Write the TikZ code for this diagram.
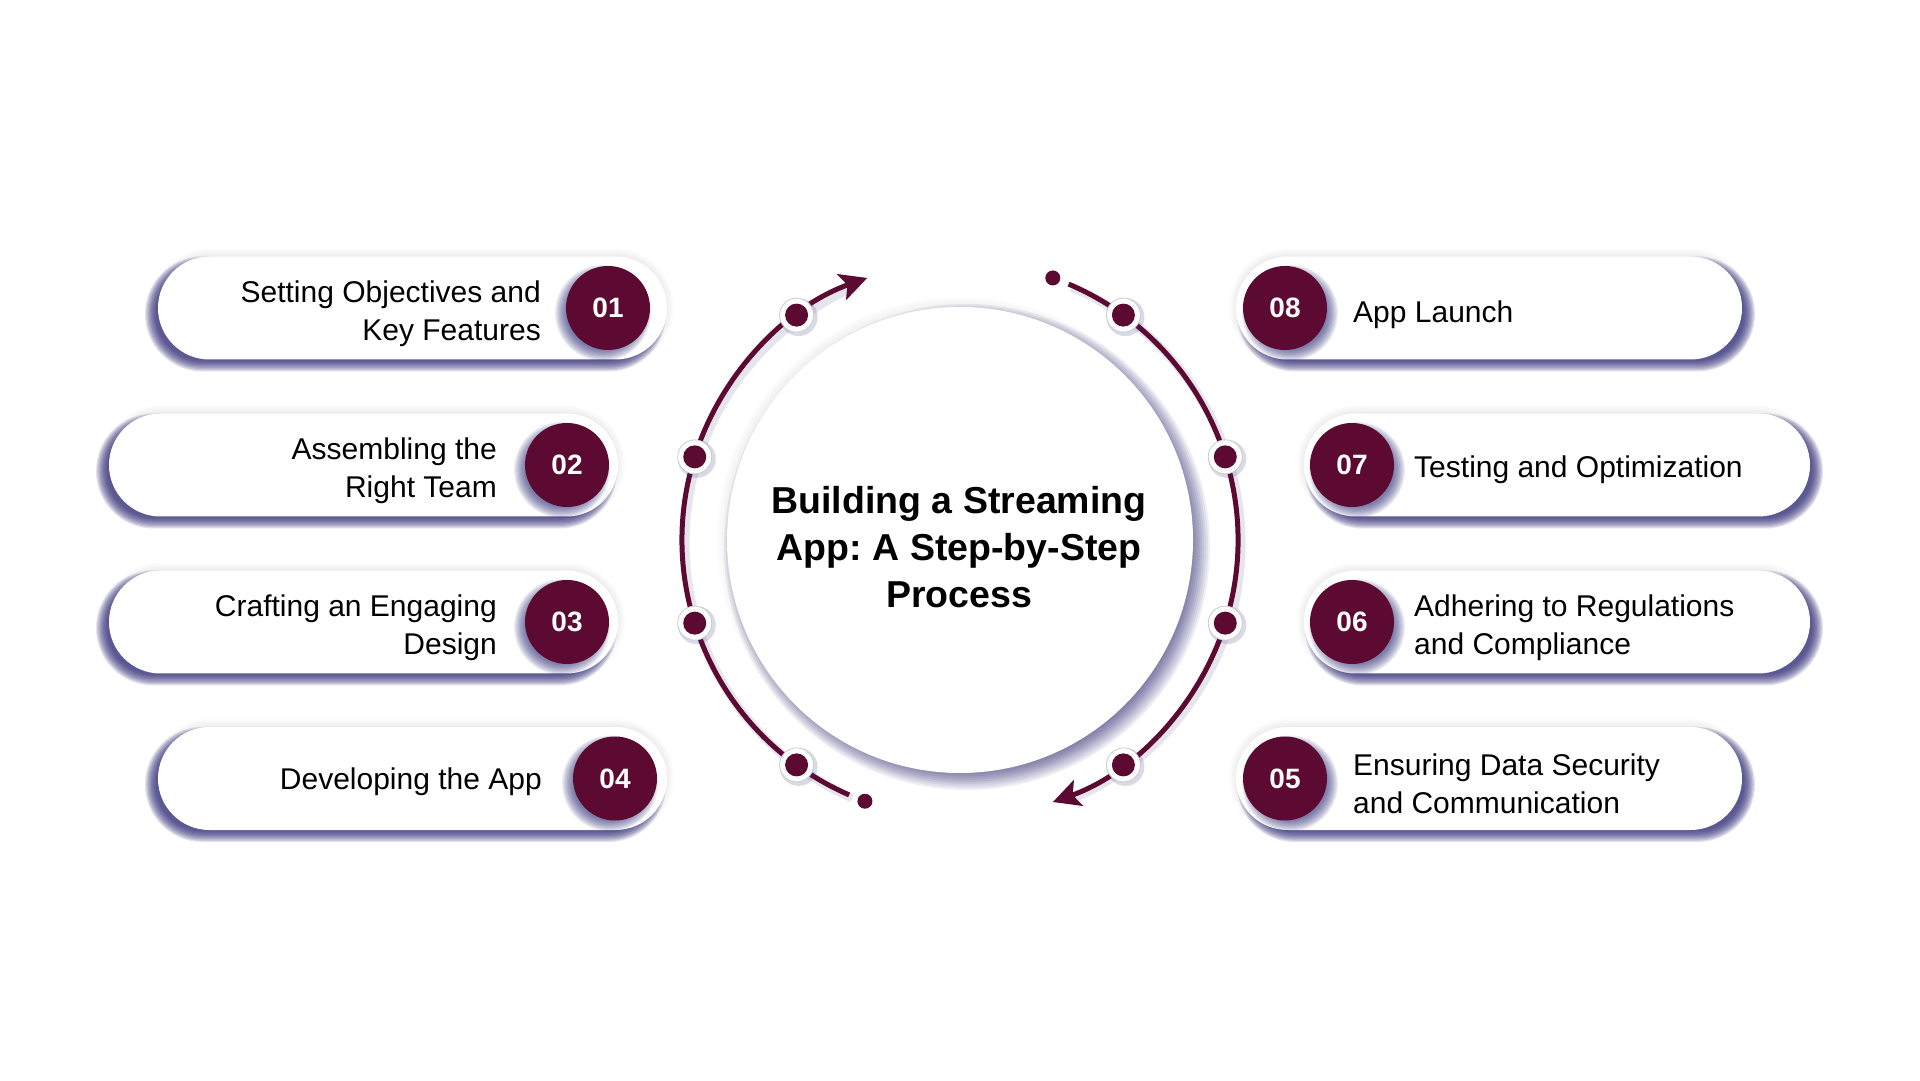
\documentclass[tikz,border=0pt]{standalone}
\usepackage{fontspec}
\setmainfont{Liberation Sans}
\usetikzlibrary{shapes.misc,arrows.meta}
\definecolor{maroon}{HTML}{5C0A32}
\definecolor{shadowc}{HTML}{34307A}
\newcommand\softpill[8]{% cx cy w h dx dy opts blur
  \foreach \k in {0,...,9}{%
    \pgfmathsetmacro\ee{#8*(1-\k/5)}%
    \pgfmathsetmacro\rr{#4/2+\ee-0.2}%
    \fill[#7, rounded corners=\rr pt] ({#1-#3/2+#5-\ee},{#2-#4/2+#6-\ee}) rectangle ({#1+#3/2+#5+\ee},{#2+#4/2+#6+\ee});
  }}
\newcommand\softcirc[7]{% cx cy r dx dy opts blur
  \foreach \k in {0,...,9}{%
    \pgfmathsetmacro\ee{#7*(1-\k/5)}%
    \fill[#6] ({#1+#4},{#2+#5}) circle[radius={#3+\ee}];
  }}
\tikzset{
  pill/.style={rounded rectangle, fill=white, minimum height=103pt, inner sep=0pt, draw=none},
  num/.style={circle, fill=maroon, minimum size=84pt, inner sep=0pt, text=white, font=\bfseries\fontsize{28}{28}\selectfont},
  lbl/.style={font=\fontsize{30}{38}\selectfont, inner sep=0pt, text=black},
  lbll/.style={lbl, anchor=east, align=right},
  lblr/.style={lbl, anchor=west, align=left},
  marker/.style={circle, fill=maroon, minimum size=23pt, inner sep=0pt},
  halo/.style={circle, fill=white, draw=gray!40, line width=0.8pt, minimum size=34pt, inner sep=0pt},
  enddot/.style={circle, fill=maroon, minimum size=15pt, inner sep=0pt},
  ring/.style={draw=maroon, line width=5pt},
  tip/.style={-{Stealth[length=27pt,width=27pt,inset=6pt]}},
  sh/.style={shadowc, opacity=0.14},
  glow/.style={black, opacity=0.012},
}
\begin{document}
\frenchspacing
\begin{tikzpicture}[x=1pt,y=1pt]
\useasboundingbox[fill=white] (0,0) rectangle (1920,1080);

% ---------- central circle ----------
\coordinate (c) at (960,540);
\softcirc{960}{540}{233}{0}{0}{glow}{10}
\softcirc{960}{540}{233}{7}{-7}{shadowc, opacity=0.08}{10}
\node[circle, fill=white, minimum size=466pt, inner sep=0pt] (hub) at (c) {};
\node[font=\bfseries\fontsize{37.5}{47}\selectfont, align=center] (title) at (959,533)
  {Building a Streaming\\App: A Step-by-Step\\Process};

% ---------- ring ----------
\path (c) ++(246.5:278) coordinate (la);
\path (c) ++(67:278) coordinate (ra);
\draw[shadowc, opacity=0.12, line width=9pt] ([shift={(3,-3)}]la) arc[start angle=246.5, end angle=112, radius=278];
\draw[shadowc, opacity=0.12, line width=9pt] ([shift={(3,-3)}]ra) arc[start angle=67, end angle=-67, radius=278];
\draw[ring, tip] (la) arc[start angle=246.5, end angle=109.5, radius=278];
\draw[ring, tip] (ra) arc[start angle=67, end angle=-70.5, radius=278];
\path (c) ++(250:278) node[enddot] (ld) {};
\path (c) ++(70.5:278) node[enddot] (rd) {};

\foreach \a/\nm in {126/m1,162.6/m2,197.4/m3,234/m4,54/m8,17.4/m7,-17.4/m6,-54/m5}{
  \path (c) ++(\a:278) coordinate (q);
  \path (q) ++(2,-2) coordinate (qs);
  \fill[shadowc, opacity=0.18] (qs) circle[radius=19];
  \node[halo] (h\nm) at (q) {};
  \node[marker] (\nm) at (q) {};
}

% ---------- pills: shadows ----------
\foreach \x/\y/\w/\dx in {412.5/772/509/-7, 363.5/615/509/-7, 363.5/458/509/-7, 412.5/301.5/509/-7,
                          1489/772/506/7, 1557/615/506/7, 1557/458/506/7, 1489/301.5/506/7}{
  \softpill{\x}{\y}{\w}{103}{0}{1}{glow}{7}
  \softpill{\x}{\y}{\w}{103}{\dx}{-6}{sh}{6}
}

% ---------- pills ----------
\node[pill, minimum width=509pt] (p1) at (412.5,772) {};
\node[pill, minimum width=509pt] (p2) at (363.5,615) {};
\node[pill, minimum width=509pt] (p3) at (363.5,458) {};
\node[pill, minimum width=509pt] (p4) at (412.5,301.5) {};
\node[pill, minimum width=506pt] (p8) at (1489,772) {};
\node[pill, minimum width=506pt] (p7) at (1557,615) {};
\node[pill, minimum width=506pt] (p6) at (1557,458) {};
\node[pill, minimum width=506pt] (p5) at (1489,301.5) {};

% ---------- number circles ----------
\foreach \x/\y/\dx in {608/772/-5, 567/615/-5, 567/458/-5, 615/301.5/-5,
                       1285/772/5, 1352/615/5, 1352/458/5, 1285/301.5/5}{
  \softcirc{\x}{\y}{42}{\dx}{-5}{shadowc, opacity=0.09}{6}
}
\node[num] (n1) at (608,772) {01};
\node[num] (n2) at (567,615) {02};
\node[num] (n3) at (567,458) {03};
\node[num] (n4) at (615,301.5) {04};
\node[num] (n8) at (1285,772) {08};
\node[num] (n7) at (1352,615) {07};
\node[num] (n6) at (1352,458) {06};
\node[num] (n5) at (1285,301.5) {05};

% ---------- labels ----------
\node[lbll] (l1) at (541,766) {Setting Objectives and\\Key Features};
\node[lbll] (l2) at (497,609) {Assembling the\\Right Team};
\node[lbll] (l3) at (497,452) {Crafting an Engaging\\Design};
\node[lbll] (l4) at (542,298) {Developing the App};
\node[lblr] (l8) at (1353,765) {App Launch};
\node[lblr] (l7) at (1414,610) {Testing and Optimization};
\node[lblr] (l6) at (1414,452) {Adhering to Regulations\\and Compliance};
\node[lblr] (l5) at (1353,296) {Ensuring Data Security\\and Communication};
\end{tikzpicture}
\end{document}
